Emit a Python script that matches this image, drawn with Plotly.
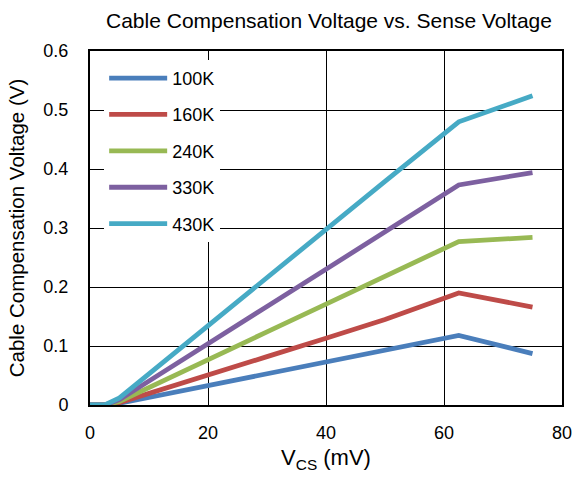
import plotly.graph_objects as go

vcs = [0, 2.5, 5, 10, 20, 30, 40, 50, 62.5, 75]
names = ["100K", "160K", "240K", "330K", "430K"]
v100 = [0, 0, 0.003, 0.013, 0.033, 0.053, 0.073, 0.093, 0.118, 0.087]
v160 = [0, 0, 0.004, 0.020, 0.051, 0.082, 0.113, 0.145, 0.190, 0.166]
v240 = [0, 0, 0.006, 0.030, 0.077, 0.124, 0.171, 0.218, 0.277, 0.284]
v330 = [0, 0, 0.009, 0.041, 0.104, 0.167, 0.230, 0.293, 0.373, 0.394]
v430 = [0, 0, 0.012, 0.053, 0.135, 0.216, 0.297, 0.379, 0.480, 0.524]
colors = ["#4A7EBB", "#BE4B48", "#98B954", "#7D60A0", "#46AAC5"]
series = [v100, v160, v240, v330, v430]

FONT = "Liberation Sans, Arial, sans-serif"

fig = go.Figure()
for name, ys, c in zip(names, series, colors):
    fig.add_trace(go.Scatter(x=vcs, y=ys, mode="lines", name=name, legendgroup=name,
                             line=dict(color=c, width=4.8)))

fig.update_layout(
    width=574, height=478,
    margin=dict(l=90, r=12, t=51, b=73),
    paper_bgcolor="white", plot_bgcolor="white",
    font=dict(family=FONT, size=18, color="black"),
    title=dict(text="Cable Compensation Voltage vs. Sense Voltage", x=329 / 574, xanchor="center",
               y=1 - 20.5 / 478, yanchor="middle", font=dict(size=21)),
    showlegend=True,
    legend=dict(x=0.03, y=0.975, xanchor="left", yanchor="top", bgcolor="white",
                borderwidth=0, font=dict(size=18), tracegroupgap=10, itemwidth=58),
)
fig.update_xaxes(range=[0, 80], tickvals=[0, 20, 40, 60, 80], showgrid=True, gridcolor="black",
                 gridwidth=1, showline=True, linecolor="black", linewidth=2, mirror=True,
                 zeroline=False, ticks="", ticklabelstandoff=10, automargin=False,
                 title=dict(text="V<sub>CS</sub> (mV)", standoff=8))
fig.update_yaxes(range=[0, 0.6], tickvals=[0, 0.1, 0.2, 0.3, 0.4, 0.5, 0.6],
                 ticktext=["0", "0.1", "0.2", "0.3", "0.4", "0.5", "0.6"],
                 showgrid=True, gridcolor="black", gridwidth=1, showline=True, linecolor="black",
                 linewidth=2, mirror=True, zeroline=False, ticks="", ticklabelstandoff=16,
                 automargin=False,
                 title=dict(text="Cable Compensation Voltage (V)", standoff=13, font=dict(size=20.5)))

fig.write_html("out.html", config={"displayModeBar": False},
               post_script="document.body.style.margin='0';document.body.style.padding='0';")
